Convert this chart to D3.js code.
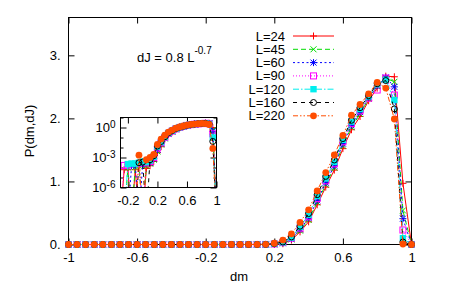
<!DOCTYPE html>
<html>
<head>
<meta charset="utf-8">
<script src="https://cdn.jsdelivr.net/npm/d3@7"></script>
<style>
body { margin: 0; background: #fff; }
svg text { font-family: "Liberation Sans", Arial, Helvetica, sans-serif; font-size: 13px; fill: #000; }
</style>
</head>
<body>
<svg id="chart" width="460" height="287"></svg>
<script>
/////////////////////////////////////////////////////////////
////////////////////// Data /////////////////////////////////
/////////////////////////////////////////////////////////////
var dm = [-1,-0.95,-0.9,-0.85,-0.8,-0.75,-0.7,-0.65,-0.6,-0.55,-0.5,-0.45,-0.4,-0.35,
    -0.3,-0.25,-0.2,-0.15,-0.1,-0.05,0,0.05,0.1,0.15,
    0.2,0.25,0.3,0.35,0.4,0.45,0.5,0.55,0.6,0.65,0.7,0.75,0.8,0.85,0.9,0.95,1];

var p24 = [0,0,0,0,0,0,0,0,0,0,0,0,0,0,
    0,6e-5,6e-5,0,6e-5,0,0,8e-5,1.5e-4,4e-4,
    0.003,0.012,0.07,0.20,0.36,0.63,0.91,1.18,1.52,1.82,2.03,2.28,2.48,2.67,2.66,0.97,0];
var p45 = [0,0,0,0,0,0,0,0,0,0,0,0,0,0,
    0,0,1e-4,0,1.2e-4,1.5e-4,0,1.5e-4,2.5e-4,6e-4,
    0.004,0.02,0.08,0.22,0.39,0.67,0.95,1.22,1.57,1.86,2.07,2.31,2.51,2.64,2.58,0.54,0];
var p60 = [0,0,0,0,0,0,0,0,0,0,0,0,0,0,
    0,0,0,1.5e-4,2e-4,0,2e-4,2.5e-4,3e-4,8e-4,
    0.006,0.025,0.09,0.24,0.42,0.70,0.98,1.25,1.60,1.89,2.10,2.33,2.52,2.65,2.50,0.41,0];
var p90 = [0,0,0,0,0,0,0,0,0,0,0,0,0,0,
    0,1.6e-4,1.8e-4,0,0,2.5e-4,0,3e-4,4e-4,1e-3,
    0.009,0.03,0.10,0.26,0.44,0.73,1.01,1.28,1.63,1.92,2.12,2.32,2.45,2.64,2.37,0.23,0];
var p120 = [0,0,0,0,0,0,0,0,0,0,0,0,0,0,
    0,0,2.2e-4,2.5e-4,2.5e-4,3e-4,4e-4,3.5e-4,5e-4,1.2e-3,
    0.012,0.035,0.11,0.28,0.47,0.77,1.05,1.31,1.66,1.95,2.15,2.35,2.54,2.61,2.29,0.10,0];
var p160 = [0,0,0,0,0,0,0,0,0,0,0,0,0,0,
    0,0,0,0,0,3e-4,3.5e-4,0,6e-4,1.5e-3,
    0.014,0.04,0.12,0.29,0.49,0.79,1.08,1.34,1.68,1.97,2.17,2.36,2.55,2.60,2.15,0.04,0];
var p220 = [0,0,0,0,0,0,0,0,0,0,0,0,0,0,
    0,0,0,0,0,1.7e-3,0,6e-4,1e-3,2e-3,
    0.02,0.07,0.17,0.35,0.55,0.85,1.14,1.42,1.73,2.05,2.22,2.39,2.57,2.48,1.99,0.008,0];

var seriesNames = ["L=24","L=45","L=60","L=90","L=120","L=160","L=220"];
var seriesValues = [p24, p45, p60, p90, p120, p160, p220];

var xTicks = [-1,-0.6,-0.2,0.2,0.6,1];
var yTicks = [0,1,2,3];
var insetXTicks = [-0.2,0.2,0.6,1];
var insetYLabelTicks = [1e-6,1e-3,1e0];
var insetYMinorTicks = [1e-5,1e-4,1e-2,1e-1,1e1];

//gnuplot-ish line styles
var styles = [
    {color:"#ff0000", dash:null,              marker:"plus"},
    {color:"#00dd00", dash:"5,3",             marker:"cross"},
    {color:"#0000ff", dash:"2,2.5",           marker:"star"},
    {color:"#ff00ff", dash:"1,2",             marker:"square"},
    {color:"#00eeee", dash:"6,2,1.5,2",       marker:"fsquare"},
    {color:"#000000", dash:"4,4",             marker:"circle"},
    {color:"#ff4d00", dash:"5,2,1.5,2,1.5,2", marker:"fcircle"}
];

var svg = d3.select("#chart");

/////////////////////////////////////////////////////////////
////////////////////// Markers //////////////////////////////
/////////////////////////////////////////////////////////////
function addMarker(g, st) {
    var m = st.marker;
    if (m == "plus" || m == "star") {
        g.append("path").attr("d","M-3.5,0H3.5M0,-3.5V3.5").attr("stroke",st.color).attr("fill","none");
    }
    if (m == "cross" || m == "star") {
        g.append("path").attr("d","M-3,-3L3,3M-3,3L3,-3").attr("stroke",st.color).attr("fill","none");
    }
    if (m == "square") {
        g.append("rect").attr("x",-3).attr("y",-3).attr("width",6).attr("height",6)
            .attr("fill","none").attr("stroke",st.color);
    }
    if (m == "fsquare") {
        g.append("rect").attr("x",-3.2).attr("y",-3.2).attr("width",6.4).attr("height",6.4)
            .attr("fill",st.color);
    }
    if (m == "circle") {
        g.append("circle").attr("r",3).attr("fill","none").attr("stroke",st.color);
    }
    if (m == "fcircle") {
        g.append("circle").attr("r",3.4).attr("fill",st.color);
    }
}

function cleanAxis(g) {
    g.select(".domain").remove();
    g.attr("font-size", null).attr("font-family", null);
    g.selectAll(".tick line").attr("stroke","#000");
}

/////////////////////////////////////////////////////////////
////////////////////// Main plot ////////////////////////////
/////////////////////////////////////////////////////////////
var x = d3.scaleLinear().domain([-1, 1]).range([68.5, 411.5]);
var y = d3.scaleLinear().domain([0, 3.6]).range([244.5, 17.5]);

var xr = x.range(), yr = y.range();

svg.append("g").attr("transform","translate(0,"+yr[0]+")")
    .call(d3.axisBottom(x).tickValues(xTicks).tickSize(-6).tickPadding(8.5).tickFormat(function(d){return String(d);}))
    .call(cleanAxis);
svg.append("g").attr("transform","translate(0,"+yr[1]+")")
    .call(d3.axisTop(x).tickValues(xTicks).tickSize(-6).tickFormat(""))
    .call(cleanAxis);
svg.append("g").attr("transform","translate("+xr[0]+",0)")
    .call(d3.axisLeft(y).tickValues(yTicks).tickSize(-6).tickPadding(8).tickFormat(function(d){return d + ".";}))
    .call(cleanAxis);
svg.append("g").attr("transform","translate("+xr[1]+",0)")
    .call(d3.axisRight(y).tickValues(yTicks).tickSize(-6).tickFormat(""))
    .call(cleanAxis);

svg.append("rect")
    .attr("x", xr[0]).attr("y", yr[1])
    .attr("width", xr[1]-xr[0]).attr("height", yr[0]-yr[1])
    .attr("fill","none").attr("stroke","#000");

//axis titles
svg.append("text").attr("x", 239).attr("y", 281).attr("text-anchor","middle").text("dm");
svg.append("text").attr("transform","translate(34,131) rotate(-90)").attr("text-anchor","middle").text("P(dm,dJ)");

//annotation
var ann = svg.append("text").attr("x", 137).attr("y", 61.5).text("dJ = 0.8 L");
ann.append("tspan").attr("dy", -8).attr("font-size","10px").text("-0.7");

var line = d3.line().x(function(d){return x(d[0]);}).y(function(d){return y(d[1]);});

var plotG = svg.append("g");
seriesValues.forEach(function(vals, k){
    var st = styles[k];
    var pts = dm.map(function(d, i){return [d, vals[i]];});
    plotG.append("path").datum(pts)
        .attr("d", line)
        .attr("fill","none")
        .attr("stroke", st.color)
        .attr("stroke-dasharray", st.dash);
    plotG.append("g").selectAll("g")
        .data(pts)
        .enter().append("g")
        .attr("transform", function(d){return "translate("+x(d[0])+","+y(d[1])+")";})
        .each(function(){ addMarker(d3.select(this), st); });
});

/////////////////////////////////////////////////////////////
////////////////////// Legend ///////////////////////////////
/////////////////////////////////////////////////////////////
var legend = svg.append("g").attr("class","key");
seriesNames.forEach(function(name, k){
    var st = styles[k];
    var cy = 36 + 13.3 * k;
    legend.append("text").attr("x", 285).attr("y", cy + 4.5).attr("text-anchor","end").text(name);
    legend.append("line").attr("x1", 293).attr("x2", 334).attr("y1", cy).attr("y2", cy)
        .attr("stroke", st.color).attr("stroke-dasharray", st.dash);
    var mg = legend.append("g").attr("transform","translate(313.5,"+cy+")");
    addMarker(mg, st);
});

/////////////////////////////////////////////////////////////
////////////////////// Inset ////////////////////////////////
/////////////////////////////////////////////////////////////
var xi = d3.scaleLinear().domain([-0.3, 1]).range([120.5, 216.5]);
var yi = d3.scaleLog().domain([1e-6, 10]).range([187.5, 117.5]);
var xir = xi.range(), yir = yi.range();

svg.append("rect")
    .attr("x", xir[0]).attr("y", yir[1])
    .attr("width", xir[1]-xir[0]).attr("height", yir[0]-yir[1])
    .attr("fill","#fff");

svg.append("clipPath").attr("id","insetClip")
    .append("rect")
    .attr("x", xir[0]).attr("y", yir[1])
    .attr("width", xir[1]-xir[0]).attr("height", yir[0]-yir[1]);

svg.append("g").attr("transform","translate(0,"+yir[0]+")")
    .call(d3.axisBottom(xi).tickValues(insetXTicks).tickSize(-6).tickPadding(8.5).tickFormat(function(d){return String(d);}))
    .call(cleanAxis);
svg.append("g").attr("transform","translate(0,"+yir[1]+")")
    .call(d3.axisTop(xi).tickValues(insetXTicks).tickSize(-6).tickFormat(""))
    .call(cleanAxis);

var yLab = svg.append("g").attr("transform","translate("+xir[0]+",0)")
    .call(d3.axisLeft(yi).tickValues(insetYLabelTicks).tickSize(-6).tickPadding(5).tickFormat(""))
    .call(cleanAxis);
yLab.selectAll(".tick text").each(function(d){
    var t = d3.select(this);
    t.text("10");
    t.append("tspan").attr("dy","-0.45em").attr("font-size","10px").text(String(Math.round(Math.log10(d))));
});
svg.append("g").attr("transform","translate("+xir[0]+",0)")
    .call(d3.axisLeft(yi).tickValues(insetYMinorTicks).tickSize(-3).tickFormat(""))
    .call(cleanAxis);
svg.append("g").attr("transform","translate("+xir[1]+",0)")
    .call(d3.axisRight(yi).tickValues(insetYLabelTicks).tickSize(-6).tickFormat(""))
    .call(cleanAxis);
svg.append("g").attr("transform","translate("+xir[1]+",0)")
    .call(d3.axisRight(yi).tickValues(insetYMinorTicks).tickSize(-3).tickFormat(""))
    .call(cleanAxis);

//zero bins fall off the bottom of the log axis
var lineInset = d3.line()
    .x(function(d){return xi(d[0]);})
    .y(function(d){return yi(d[1] > 0 ? d[1] : 1e-9);});

var insetG = svg.append("g");
seriesValues.forEach(function(vals, k){
    var st = styles[k];
    var pts = dm.map(function(d, i){return [d, vals[i]];});
    insetG.append("path").datum(pts)
        .attr("clip-path","url(#insetClip)")
        .attr("d", lineInset)
        .attr("fill","none")
        .attr("stroke", st.color)
        .attr("stroke-dasharray", st.dash);
    insetG.append("g").selectAll("g")
        .data(pts.filter(function(d){return d[1] >= 1e-6 && d[0] >= -0.3;}))
        .enter().append("g")
        .attr("transform", function(d){return "translate("+xi(d[0])+","+yi(d[1])+")";})
        .each(function(){ addMarker(d3.select(this), st); });
});

svg.append("rect")
    .attr("x", xir[0]).attr("y", yir[1])
    .attr("width", xir[1]-xir[0]).attr("height", yir[0]-yir[1])
    .attr("fill","none").attr("stroke","#000");
</script>
</body>
</html>
